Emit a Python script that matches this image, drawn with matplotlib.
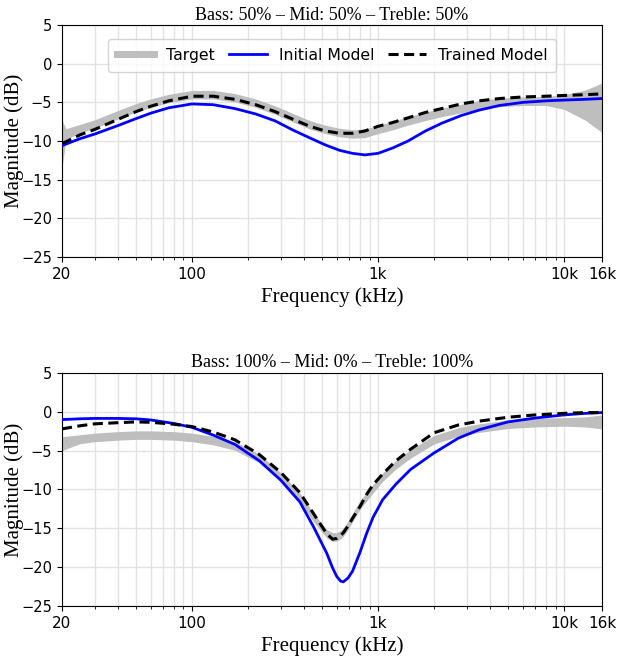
import matplotlib
matplotlib.use("Agg")
import matplotlib.pyplot as plt
from matplotlib.ticker import FixedLocator, LogLocator, NullFormatter
from matplotlib.lines import Line2D

# top panel: Bass 50% - Mid 50% - Treble 50%
freq_top = [20, 21, 25, 30, 40, 50, 60, 75, 100, 130, 170, 220, 280, 350, 430, 520, 620,
            730, 850, 1000, 1200, 1450, 1800, 2200, 2800, 3500, 4500, 6000, 8000, 10000,
            13000, 16000]
initial_top = [-10.6, -10.4, -9.7, -9.1, -8.0, -7.1, -6.4, -5.7, -5.2, -5.3, -5.8, -6.5,
               -7.4, -8.6, -9.6, -10.5, -11.2, -11.6, -11.8, -11.6, -10.9, -10.0, -8.7,
               -7.7, -6.7, -6.0, -5.4, -5.0, -4.8, -4.7, -4.6, -4.5]
trained_top = [-10.3, -10.1, -9.2, -8.5, -7.2, -6.2, -5.5, -4.8, -4.2, -4.2, -4.6, -5.3,
               -6.2, -7.2, -8.1, -8.7, -9.0, -9.0, -8.7, -8.1, -7.6, -7.0, -6.3, -5.8,
               -5.2, -4.8, -4.5, -4.3, -4.2, -4.1, -4.0, -3.9]
target_top = [-9.2, -9.0, -8.4, -7.8, -6.6, -5.7, -5.1, -4.5, -4.0, -4.0, -4.4, -5.1, -6.0,
              -7.0, -7.9, -8.5, -8.9, -9.1, -9.0, -8.5, -8.0, -7.4, -6.8, -6.3, -5.8, -5.3,
              -5.0, -4.85, -4.8, -4.9, -5.2, -5.5]
target_top_up = [1.9, 0.6, 0.55, 0.55, 0.55, 0.55, 0.55, 0.55, 0.55, 0.55, 0.55, 0.55, 0.55,
                 0.55, 0.55, 0.55, 0.55, 0.55, 0.55, 0.55, 0.55, 0.55, 0.55, 0.55, 0.55,
                 0.55, 0.55, 0.55, 0.55, 0.9, 1.8, 3.0]
target_top_down = [4.3, 0.8, 0.55, 0.55, 0.55, 0.55, 0.55, 0.55, 0.55, 0.55, 0.55, 0.55,
                   0.55, 0.55, 0.55, 0.55, 0.55, 0.55, 0.55, 0.55, 0.55, 0.55, 0.55, 0.55,
                   0.55, 0.55, 0.55, 0.55, 0.6, 1.0, 2.1, 3.4]

# bottom panel: Bass 100% - Mid 0% - Treble 100%
freq_bot = [20, 25, 30, 40, 50, 60, 80, 100, 130, 170, 230, 300, 380, 450, 530, 570, 600,
            630, 650, 690, 730, 800, 870, 940, 1060, 1250, 1500, 2000, 2700, 3500, 5000,
            7000, 10000, 13000, 16000]
initial_bot = [-1.0, -0.9, -0.85, -0.85, -0.9, -1.05, -1.5, -2.0, -3.0, -4.2, -6.3, -8.8,
               -11.6, -14.8, -18.2, -20.1, -21.2, -21.8, -21.9, -21.4, -20.5, -18.1, -15.6,
               -13.6, -11.3, -9.3, -7.4, -5.3, -3.4, -2.3, -1.3, -0.8, -0.4, -0.2, -0.1]
trained_bot = [-2.2, -1.8, -1.55, -1.4, -1.3, -1.35, -1.6, -1.9, -2.6, -3.6, -5.5, -7.8,
               -10.4, -13.1, -15.7, -16.4, -16.3, -15.9, -15.6, -14.7, -13.7, -12.2, -10.6,
               -9.4, -8.0, -6.3, -4.8, -2.7, -1.7, -1.2, -0.7, -0.4, -0.2, -0.1, -0.1]
target_bot = [-3.9, -3.5, -3.3, -3.1, -3.0, -3.0, -3.1, -3.3, -3.7, -4.4, -6.0, -8.4,
              -11.0, -13.6, -15.7, -16.1, -16.1, -15.8, -15.5, -14.6, -13.6, -12.0, -10.9,
              -9.9, -8.4, -6.8, -5.4, -3.6, -2.6, -2.1, -1.6, -1.4, -1.3, -1.3, -1.3]
target_bot_up = [0.7, 0.55, 0.55, 0.55, 0.55, 0.55, 0.55, 0.55, 0.55, 0.55, 0.55, 0.55,
                 0.55, 0.55, 0.55, 0.55, 0.55, 0.55, 0.55, 0.55, 0.55, 0.55, 0.55, 0.55,
                 0.55, 0.55, 0.55, 0.55, 0.55, 0.55, 0.55, 0.55, 0.55, 0.65, 0.9]
target_bot_down = [1.1, 0.6, 0.55, 0.55, 0.55, 0.55, 0.55, 0.55, 0.55, 0.55, 0.55, 0.55,
                   0.55, 0.55, 0.55, 0.55, 0.55, 0.55, 0.55, 0.55, 0.55, 0.55, 0.55, 0.55,
                   0.55, 0.55, 0.55, 0.55, 0.55, 0.55, 0.55, 0.55, 0.55, 0.65, 0.9]

titles = ["Bass: 50% – Mid: 50% – Treble: 50%", "Bass: 100% – Mid: 0% – Treble: 100%"]
xticks = [20, 100, 1000, 10000, 16000]
xticklabels = ["20", "100", "1k", "10k", "16k"]

gray = "#bebebe"
dash = (0, (3.3, 1.8))
serif = "Liberation Serif"

fig = plt.figure(figsize=(6.18, 6.62), dpi=100)
ax1 = fig.add_axes([0.1003, 0.612, 0.8738, 0.350])
ax2 = fig.add_axes([0.1003, 0.0846, 0.8738, 0.352])

panels = [
    (ax1, freq_top, target_top, target_top_up, target_top_down, initial_top, trained_top),
    (ax2, freq_bot, target_bot, target_bot_up, target_bot_down, initial_bot, trained_bot),
]

for i, (ax, f, tgt, up, down, ini, tr) in enumerate(panels):
    hi = [c + u for c, u in zip(tgt, up)]
    lo = [c - d for c, d in zip(tgt, down)]
    ax.fill_between(f, lo, hi, color=gray, lw=0, zorder=2)
    ax.plot(f, ini, color="blue", lw=2, zorder=3)
    ax.plot(f, tr, color="black", lw=2.2, ls=dash, zorder=4)
    ax.set_xscale("log")
    ax.set_xlim(20, 16000)
    ax.set_ylim(-25, 5)
    ax.set_yticks([-25, -20, -15, -10, -5, 0, 5])
    ax.xaxis.set_major_locator(FixedLocator(xticks))
    ax.set_xticklabels(xticklabels)
    ax.xaxis.set_minor_locator(LogLocator(base=10, subs=range(2, 10)))
    ax.xaxis.set_minor_formatter(NullFormatter())
    ax.grid(True, which="both", color="#e3e3e3", lw=1, zorder=0)
    ax.set_axisbelow(True)
    ax.tick_params(axis="x", labelsize=11)
    ax.tick_params(axis="y", labelsize=10.5)
    ax.set_title(titles[i], family=serif, fontsize=13, pad=4)
    ax.set_xlabel("Frequency (kHz)", family=serif, fontsize=15)
    ax.set_ylabel("Magnitude (dB)", family=serif, fontsize=15)
    ax.yaxis.set_label_coords(-0.07, 0.5)

handles = [Line2D([], [], color=gray, lw=5),
           Line2D([], [], color="blue", lw=2),
           Line2D([], [], color="black", lw=2.2, ls=dash)]
ax1.legend(handles, ["Target", "Initial Model", "Trained Model"], loc="upper center",
           ncol=3, fontsize=11.3, handlelength=2.4, columnspacing=0.9,
           handletextpad=0.75, borderpad=0.55, borderaxespad=0.9)

fig.savefig("out.png", dpi=100)
